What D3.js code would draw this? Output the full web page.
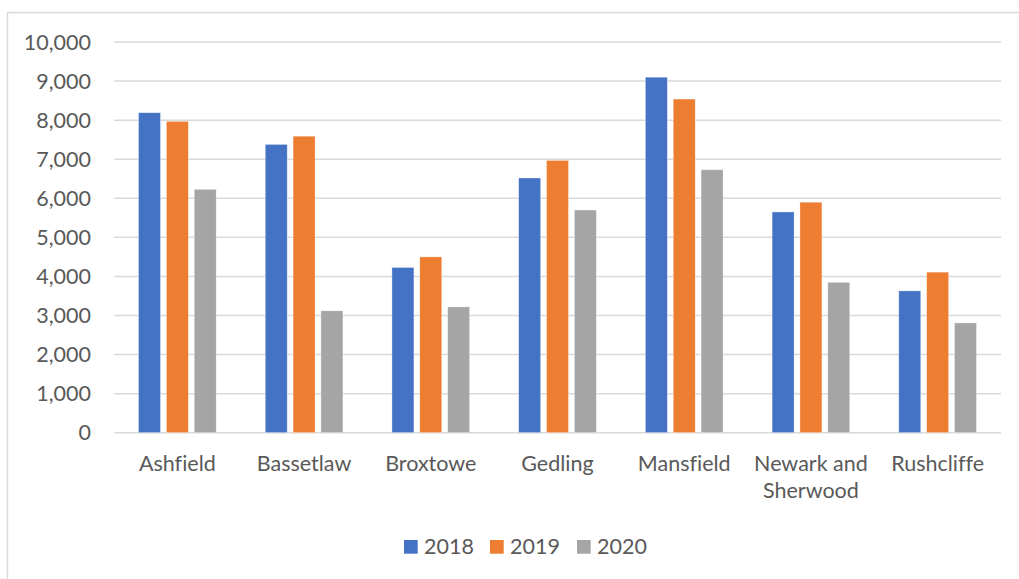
<!DOCTYPE html>
<html>
<head>
<meta charset="utf-8">
<script src="https://cdn.jsdelivr.net/npm/d3@7"></script>
<style>
  html, body { margin: 0; padding: 0; background: #fff; }
  svg { display: block; }
  text { font-family: "Lato", "Open Sans", sans-serif; fill: #595959; font-variant-ligatures: none; }
</style>
</head>
<body>
<svg id="chart" width="1019" height="579"></svg>
<script>
const categories = ["Ashfield", "Bassetlaw", "Broxtowe", "Gedling", "Mansfield", "Newark and Sherwood", "Rushcliffe"];
const categoryLines = [["Ashfield"], ["Bassetlaw"], ["Broxtowe"], ["Gedling"], ["Mansfield"], ["Newark and", "Sherwood"], ["Rushcliffe"]];
const seriesNames = ["2018", "2019", "2020"];
const values2018 = [8190, 7380, 4230, 6520, 9100, 5650, 3630];
const values2019 = [7970, 7590, 4500, 6970, 8540, 5900, 4110];
const values2020 = [6230, 3120, 3220, 5700, 6730, 3850, 2810];
const yTicks = [0, 1000, 2000, 3000, 4000, 5000, 6000, 7000, 8000, 9000, 10000];
const colors = ["#4472C4", "#ED7D31", "#A5A5A5"];

const seriesValues = [values2018, values2019, values2020];
const svg = d3.select("#chart");

// outer chart border
svg.append("rect")
  .attr("x", 7.5).attr("y", 12.5)
  .attr("width", 1030).attr("height", 600)
  .attr("fill", "none").attr("stroke", "#d9d9d9").attr("stroke-width", 1.5);

const plotLeft = 114, plotRight = 1001, plotTop = 42, plotBottom = 432.7;

const x = d3.scaleBand().domain(categories).range([plotLeft, plotRight]).paddingInner(0).paddingOuter(0);
const xs = d3.scaleBand().domain(seriesNames)
  .range([24.5, x.bandwidth() - 24.5]).paddingInner(0.21).paddingOuter(0);
const y = d3.scaleLinear().domain([0, 10000]).range([plotBottom, plotTop]);

// gridlines
svg.append("g").selectAll("line").data(yTicks).join("line")
  .attr("x1", plotLeft).attr("x2", plotRight)
  .attr("y1", d => y(d)).attr("y2", d => y(d))
  .attr("stroke", "#d9d9d9").attr("stroke-width", 1.5);

// y tick labels
const fmt = d3.format(",");
svg.append("g").selectAll("text").data(yTicks).join("text")
  .attr("x", 91).attr("y", d => y(d))
  .attr("dy", "0.36em")
  .attr("text-anchor", "end")
  .attr("font-size", 21.5)
  .text(d => fmt(d));

// bars
const groups = svg.append("g").selectAll("g").data(categories).join("g")
  .attr("transform", d => `translate(${x(d)},0)`);
seriesNames.forEach((s, si) => {
  groups.append("rect")
    .attr("x", xs(s))
    .attr("width", xs.bandwidth())
    .attr("y", (d, i) => y(seriesValues[si][i]))
    .attr("height", (d, i) => y(0) - y(seriesValues[si][i]))
    .attr("fill", colors[si])
    .attr("stroke", "#ffffff").attr("stroke-width", 0.6).attr("stroke-opacity", 0.6);
});

// category labels
const labels = svg.append("g").selectAll("text").data(categories).join("text")
  .attr("x", d => x(d) + x.bandwidth() / 2)
  .attr("y", 471)
  .attr("text-anchor", "middle")
  .attr("font-size", 21.5);
labels.each(function(d, i) {
  const t = d3.select(this);
  categoryLines[i].forEach((ln, li) => {
    t.append("tspan")
      .attr("x", x(d) + x.bandwidth() / 2)
      .attr("dy", li === 0 ? 0 : 27)
      .text(ln);
  });
});

// legend
const legendX = [404, 490, 577];
const legend = svg.append("g").selectAll("g").data(seriesNames).join("g")
  .attr("transform", (d, i) => `translate(${legendX[i]},540)`);
legend.append("rect").attr("width", 13.7).attr("height", 13.7)
  .attr("fill", (d, i) => colors[i]);
legend.append("text").attr("x", 20).attr("y", 14)
  .attr("font-size", 21.5).text(d => d);
</script>
</body>
</html>
